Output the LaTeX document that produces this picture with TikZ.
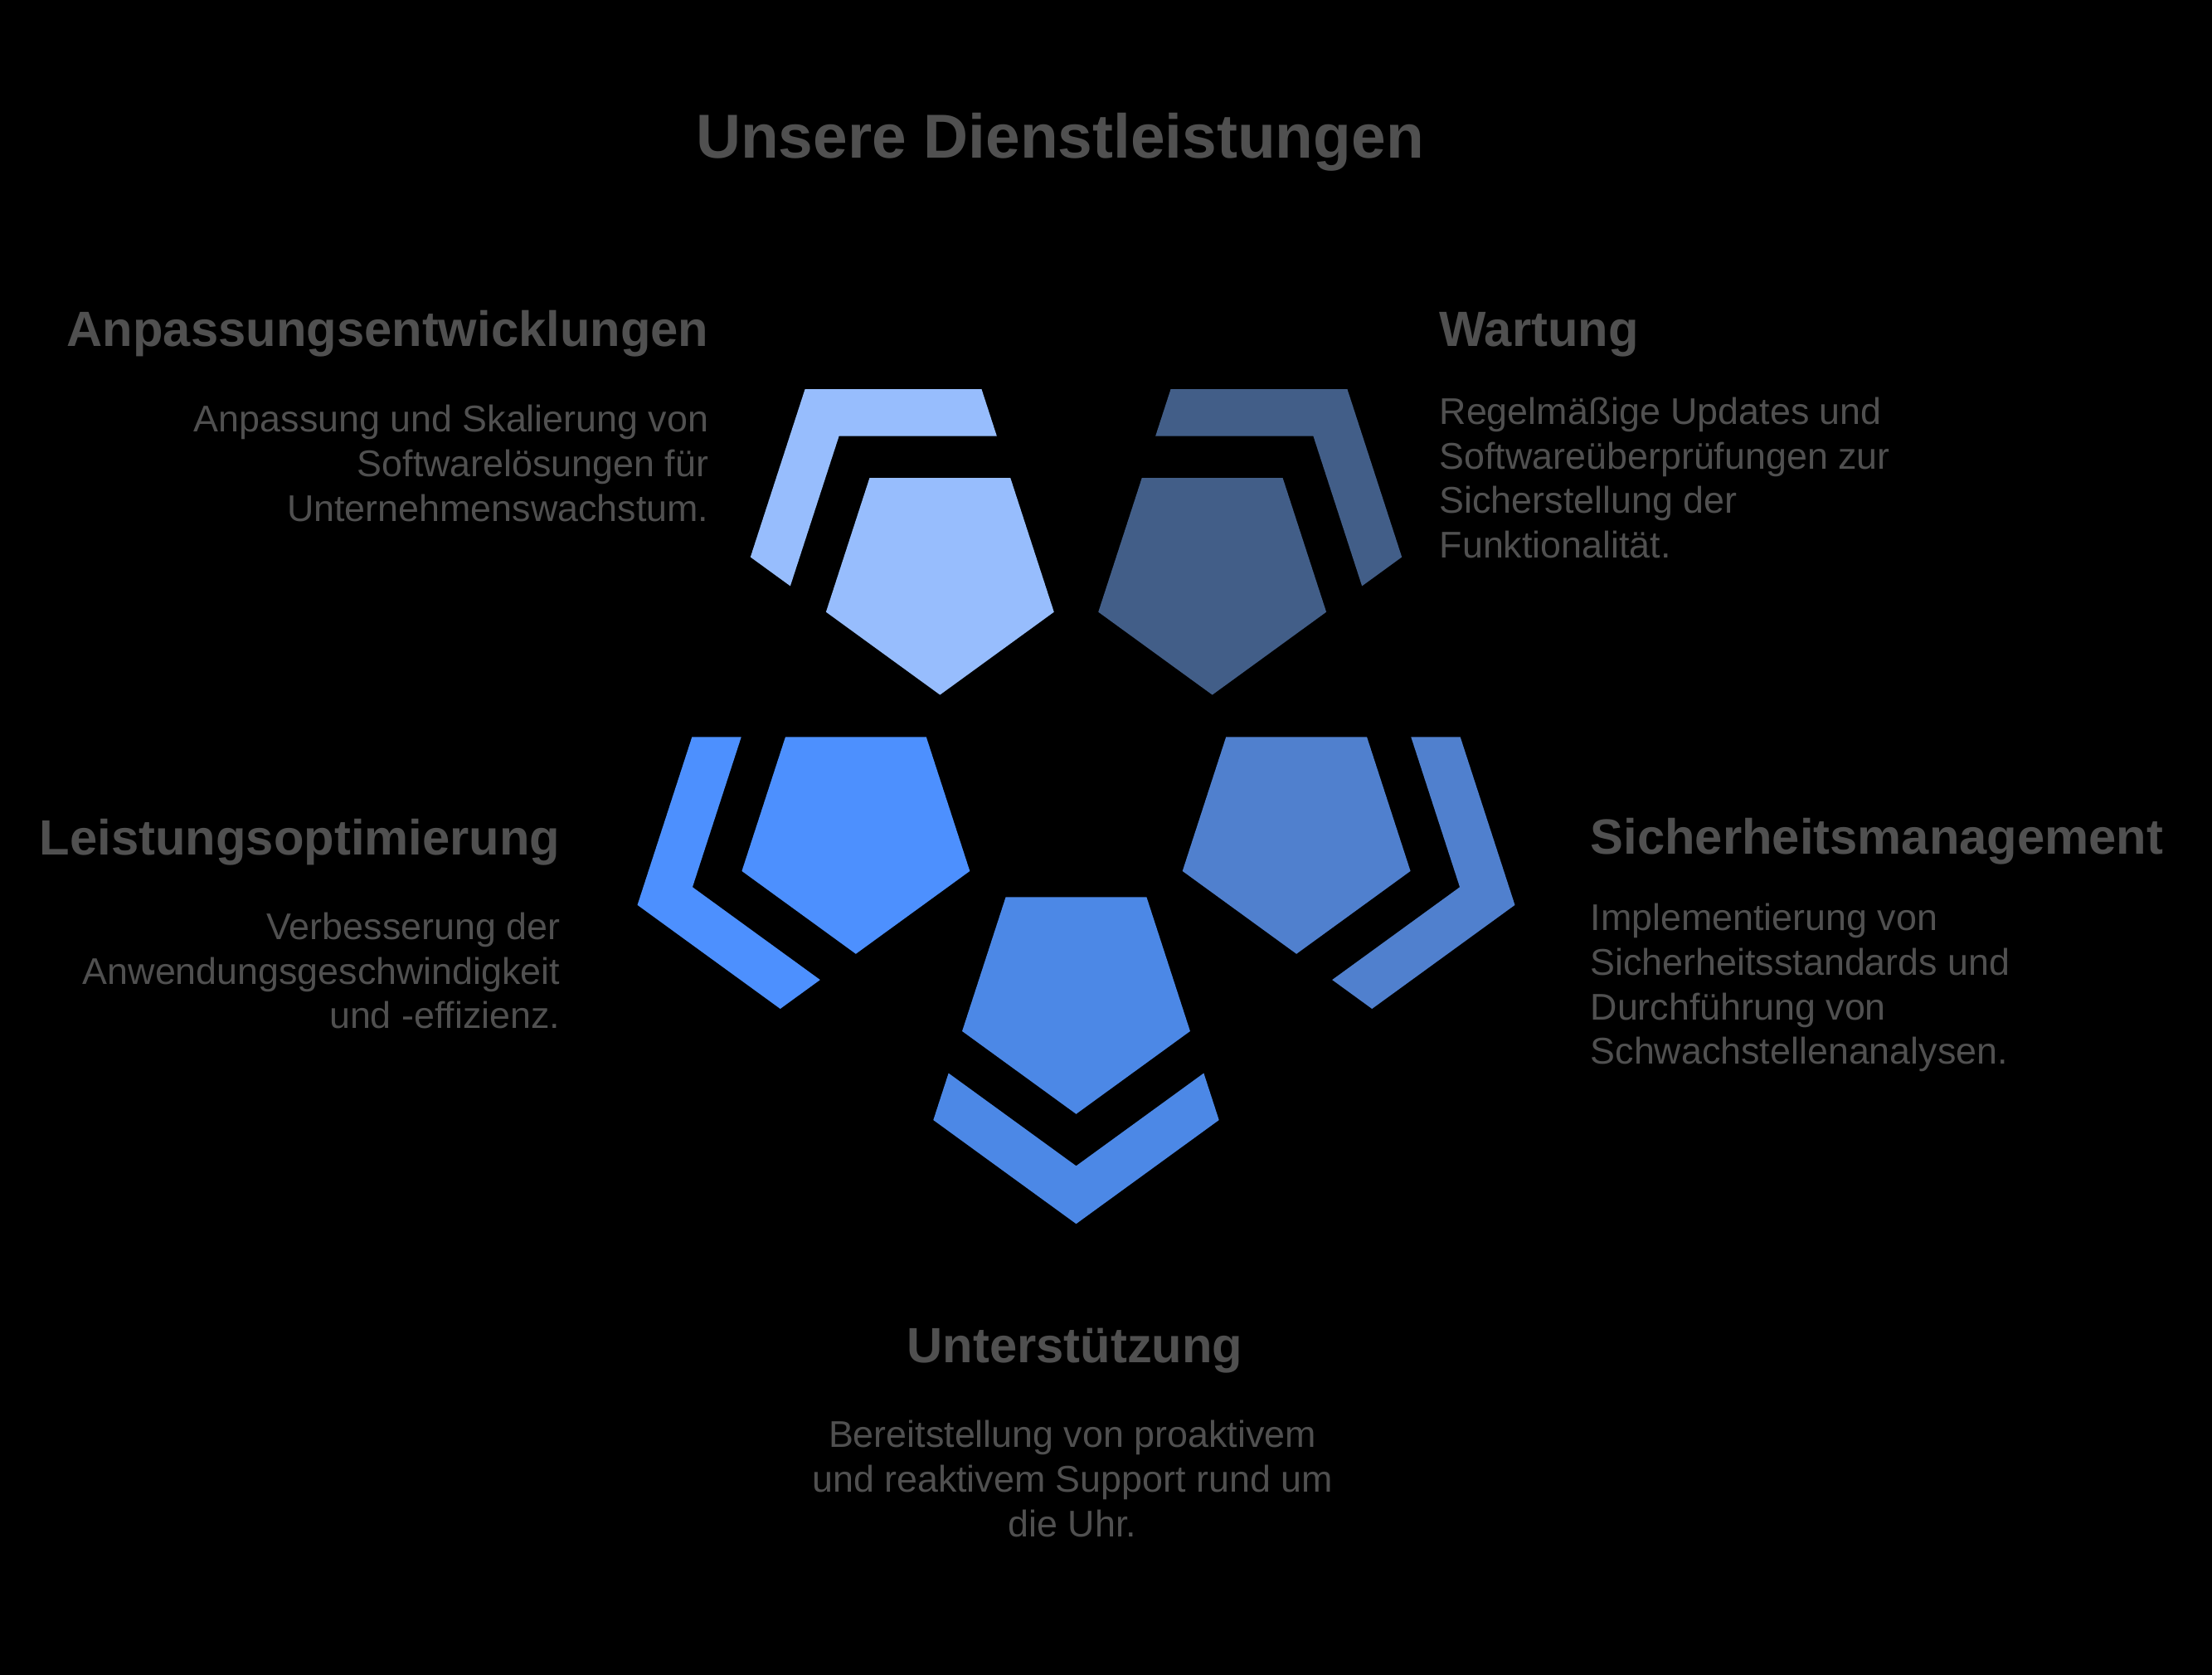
\documentclass[tikz,border=0pt]{standalone}
\usepackage{fontspec}
\setmainfont{Liberation Sans}
\usepackage{tikz}
\usetikzlibrary{shapes.geometric}
\definecolor{cAnp}{RGB}{151,189,253}
\definecolor{cWar}{RGB}{66,94,136}
\definecolor{cLei}{RGB}{77,144,254}
\definecolor{cSic}{RGB}{80,128,206}
\definecolor{cUnt}{RGB}{76,136,230}
\definecolor{txtgray}{RGB}{80,80,80}
\tikzset{
  ttl/.style={inner sep=0, text=txtgray, font=\bfseries\fontsize{21.3}{25}\selectfont},
  head/.style={inner sep=0, text=txtgray, font=\bfseries\fontsize{17}{20}\selectfont},
  body/.style={inner sep=0, text=txtgray, font=\fontsize{12.75}{15.28}\selectfont},
  penta/.style={regular polygon, regular polygon sides=5, shape border rotate=180,
    minimum size=2.89cm, inner sep=0, outer sep=0}
}

\begin{document}
\begin{tikzpicture}
\fill [black] (0,0) rectangle (26.67,-20.19);
\coordinate (O) at (12.975,-9.19);
% five pentagons with their bands
\foreach \ang/\col/\nm in {126/cAnp/anp, 54/cWar/war, 198/cLei/lei, -18/cSic/sic, -90/cUnt/unt}{
  \node [penta, fill=\col] (\nm) at ([shift={(\ang:2.793)}]O) {};
  \fill [\col, shift={(\nm.center)}, rotate=\ang+90] (1.5386,-0.9526) -- (0,-2.0705) -- (-1.5386,-0.9526)
    -- (-1.7222,-1.5176) -- (0,-2.7689) -- (1.7222,-1.5176) -- cycle;
}
\node [ttl, anchor=base] (title) at (12.78,-1.91) {Unsere Dienstleistungen};
% texts (base = last line)
\node [head, anchor=base east] (hanp) at (8.55,-4.18) {Anpassungsentwicklungen};
\node [body, anchor=base east, align=right] (tanp) at (8.55,-6.284) {Anpassung und Skalierung von\\Softwarelösungen für\\Unternehmenswachstum.};
\node [head, anchor=base west] (hwar) at (17.35,-4.18) {Wartung};
\node [body, anchor=base west, align=left] (twar) at (17.35,-6.725) {Regelmäßige Updates und\\Softwareüberprüfungen zur\\Sicherstellung der\\Funktionalität.};
\node [head, anchor=base east] (hlei) at (6.76,-10.31) {Leistungsoptimierung};
\node [body, anchor=base east, align=right] (tlei) at (6.76,-12.40) {Verbesserung der\\Anwendungsgeschwindigkeit\\und -effizienz.};
\node [head, anchor=base west] (hsic) at (19.17,-10.30) {Sicherheitsmanagement};
\node [body, anchor=base west, align=left] (tsic) at (19.17,-12.83) {Implementierung von\\Sicherheitsstandards und\\Durchführung von\\Schwachstellenanalysen.};
\node [head, anchor=base] (hunt) at (12.96,-16.42) {Unterstützung};
\node [body, anchor=base, align=center] (tunt) at (12.93,-18.52) {Bereitstellung von proaktivem\\und reaktivem Support rund um\\die Uhr.};
\end{tikzpicture}
\end{document}
